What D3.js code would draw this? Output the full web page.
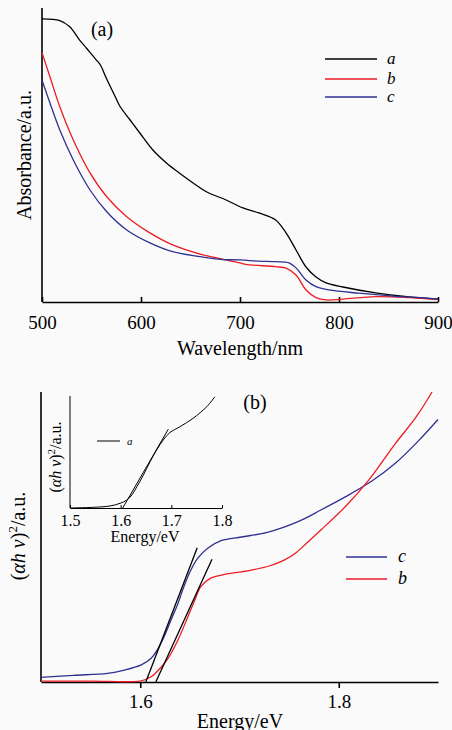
<!DOCTYPE html>
<html>
<head>
<meta charset="utf-8">
<script src="https://cdn.jsdelivr.net/npm/d3@7"></script>
<style>
  html, body { margin: 0; padding: 0; background: #fafafa; }
  svg { display: block; }
  svg text { font-family: "Liberation Serif", "Times New Roman", "DejaVu Serif", serif !important; fill: #000; }
</style>
</head>
<body>
<svg id="chart" width="452" height="730"></svg>
<script>
// ---------- Panel (a): absorbance vs wavelength ----------
const wlTicks = [500, 600, 700, 800, 900];
const wlA  = [500, 518, 528, 538, 545, 555, 559, 565, 574, 579, 589, 599, 612, 626, 639, 653, 666, 686, 703, 719, 736, 746.5, 756.6, 766.7, 776.8, 787, 804, 837, 871, 900];
const absA = [0.963, 0.957, 0.936, 0.891, 0.863, 0.823, 0.806, 0.761, 0.698, 0.664, 0.619, 0.574, 0.517, 0.472, 0.438, 0.404, 0.375, 0.347, 0.320, 0.303, 0.279, 0.235, 0.177, 0.119, 0.085, 0.065, 0.051, 0.031, 0.017, 0.010];
const wlB  = [500, 508, 518, 531.6, 548.5, 565.4, 585.6, 609, 632, 659.6, 676.5, 700, 706, 736.4, 746.5, 756.6, 766.7, 776.8, 787, 804, 837, 871, 900];
const absB = [0.848, 0.766, 0.664, 0.551, 0.439, 0.358, 0.290, 0.235, 0.194, 0.163, 0.150, 0.133, 0.128, 0.120, 0.115, 0.092, 0.041, 0.015, 0.007, 0.010, 0.018, 0.015, 0.009];
const wlC  = [500, 508, 518, 531.6, 548.5, 565.4, 585.6, 609, 632, 659.6, 680, 700, 719, 736.4, 749.5, 756.6, 766.7, 776.8, 790, 820, 854.5, 888, 900];
const absC = [0.755, 0.677, 0.585, 0.483, 0.381, 0.307, 0.245, 0.201, 0.171, 0.154, 0.145, 0.143, 0.139, 0.137, 0.133, 0.116, 0.075, 0.052, 0.041, 0.030, 0.020, 0.013, 0.009];

// ---------- Panel (b): (αhν)^2 vs energy ----------
const eTicks = [1.6, 1.8];
const eC  = [1.500, 1.533, 1.567, 1.584, 1.601, 1.611, 1.617, 1.624, 1.631, 1.638, 1.644, 1.651, 1.658, 1.668, 1.682, 1.702, 1.728, 1.759, 1.782, 1.807, 1.833, 1.857, 1.881, 1.900];
const tC  = [0.016, 0.023, 0.030, 0.041, 0.059, 0.082, 0.110, 0.156, 0.214, 0.271, 0.329, 0.386, 0.427, 0.461, 0.488, 0.500, 0.516, 0.553, 0.593, 0.639, 0.692, 0.754, 0.834, 0.905];
const eB  = [1.500, 1.550, 1.601, 1.611, 1.617, 1.627, 1.638, 1.648, 1.655, 1.661, 1.671, 1.685, 1.702, 1.712, 1.730, 1.745, 1.757, 1.768, 1.782, 1.807, 1.830, 1.857, 1.878, 1.894];
const tB  = [0.003, 0.003, 0.004, 0.018, 0.036, 0.076, 0.145, 0.225, 0.283, 0.329, 0.358, 0.371, 0.380, 0.386, 0.400, 0.420, 0.446, 0.480, 0.524, 0.606, 0.695, 0.822, 0.914, 1.000];
const tanCx = [1.6056, 1.6574], tanCy = [0, 0.463];
const tanBx = [1.6157, 1.6723], tanBy = [0, 0.423];

// ---------- Inset: sample a ----------
const insetTicks = [1.5, 1.6, 1.7, 1.8];
const eA = [1.500, 1.546, 1.579, 1.599, 1.612, 1.622, 1.632, 1.645, 1.658, 1.671, 1.684, 1.697, 1.717, 1.743, 1.770, 1.786];
const tA = [0.000, 0.006, 0.018, 0.042, 0.071, 0.116, 0.190, 0.295, 0.413, 0.518, 0.607, 0.673, 0.726, 0.801, 0.905, 0.994];
const tanAx = [1.604, 1.694], tanAy = [0, 0.703];

const colA = "#000000", colB = "#ec1c24", colC = "#2e3192";
const SERIF = "'Liberation Serif', 'Times New Roman', serif";

const svg = d3.select("#chart");
const zip = (xs, ys) => xs.map((x, i) => [x, ys[i]]);
const smooth = d3.curveCatmullRom.alpha(0.5);

function styleAxis(ax, size, w) {
  ax.attr("font-family", SERIF);
  ax.select(".domain").attr("stroke-width", w);
  ax.selectAll(".tick line").attr("stroke-width", w);
  ax.selectAll("text").attr("font-family", SERIF).style("font-size", size + "px");
}

// ===== Panel (a) =====
const xA = d3.scaleLinear().domain([500, 900]).range([42, 438]);
const yA = d3.scaleLinear().domain([0, 1]).range([302, 8]);
const lineA = d3.line().x(d => xA(d[0])).y(d => yA(d[1])).curve(smooth);

const gA = svg.append("g");
gA.append("line").attr("x1", 42).attr("x2", 42).attr("y1", yA(1)).attr("y2", yA(0))
  .attr("stroke", "#000").attr("stroke-width", 1.6);
const axA = gA.append("g").attr("transform", `translate(0,${yA(0)})`)
  .call(d3.axisBottom(xA).tickValues(wlTicks).tickSizeInner(-5).tickSizeOuter(0).tickPadding(14));
styleAxis(axA, 19, 1.6);

[[wlA, absA, colA], [wlB, absB, colB], [wlC, absC, colC]].forEach(([xs, ys, c]) => {
  gA.append("path").datum(zip(xs, ys)).attr("d", lineA)
    .attr("fill", "none").attr("stroke", c).attr("stroke-width", 1.3);
});

gA.append("text").attr("x", 240).attr("y", 355).attr("text-anchor", "middle")
  .style("font-size", "20px").text("Wavelength/nm");
gA.append("text").attr("transform", "translate(31,155) rotate(-90)").attr("text-anchor", "middle")
  .style("font-size", "20px").text("Absorbance/a.u.");
gA.append("text").attr("x", 102).attr("y", 36).attr("text-anchor", "middle")
  .style("font-size", "20px").text("(a)");

const legA = [["a", colA, 59], ["b", colB, 79], ["c", colC, 97]];
legA.forEach(([t, c, y]) => {
  gA.append("line").attr("x1", 325).attr("x2", 377).attr("y1", y).attr("y2", y)
    .attr("stroke", c).attr("stroke-width", 1.3);
  gA.append("text").attr("x", 387).attr("y", y + 5).style("font-size", "17px")
    .style("font-style", "italic").text(t);
});

// ===== Panel (b) =====
const xB = d3.scaleLinear().domain([1.5, 1.9]).range([41, 438]);
const yB = d3.scaleLinear().domain([0, 1]).range([682, 392]);
const lineB = d3.line().x(d => xB(d[0])).y(d => yB(d[1])).curve(smooth);

const gB = svg.append("g");
gB.append("line").attr("x1", 41).attr("x2", 41).attr("y1", yB(1)).attr("y2", yB(0))
  .attr("stroke", "#000").attr("stroke-width", 1.6);
const axB = gB.append("g").attr("transform", `translate(0,${yB(0)})`)
  .call(d3.axisBottom(xB).tickValues(eTicks).tickFormat(d3.format(".1f")).tickSizeInner(6).tickSizeOuter(0).tickPadding(7));
styleAxis(axB, 19, 1.6);

[[eC, tC, colC], [eB, tB, colB]].forEach(([xs, ys, c]) => {
  gB.append("path").datum(zip(xs, ys)).attr("d", lineB)
    .attr("fill", "none").attr("stroke", c).attr("stroke-width", 1.3);
});
[[tanCx, tanCy], [tanBx, tanBy]].forEach(([xs, ys]) => {
  gB.append("path").datum(zip(xs, ys)).attr("d", d3.line().x(d => xB(d[0])).y(d => yB(d[1])))
    .attr("fill", "none").attr("stroke", "#000").attr("stroke-width", 1.3);
});

gB.append("text").attr("x", 240).attr("y", 728).attr("text-anchor", "middle")
  .style("font-size", "20px").text("Energy/eV");
const ylB = gB.append("text").attr("transform", "translate(25,536) rotate(-90)").attr("text-anchor", "middle")
  .style("font-size", "20px");
ylB.append("tspan").text("(");
ylB.append("tspan").style("font-style", "italic").text("αh ν");
ylB.append("tspan").text(")");
ylB.append("tspan").attr("dy", -8).style("font-size", "13px").text("2");
ylB.append("tspan").attr("dy", 8).text("/a.u.");
gB.append("text").attr("x", 255).attr("y", 409).attr("text-anchor", "middle")
  .style("font-size", "20px").text("(b)");

const legB = [["c", colC, 557], ["b", colB, 579]];
legB.forEach(([t, c, y]) => {
  gB.append("line").attr("x1", 346).attr("x2", 387).attr("y1", y).attr("y2", y)
    .attr("stroke", c).attr("stroke-width", 1.3);
  gB.append("text").attr("x", 398).attr("y", y + 5).style("font-size", "18px")
    .style("font-style", "italic").text(t);
});

// ===== Inset =====
const xI = d3.scaleLinear().domain([1.5, 1.8]).range([70, 222]);
const yI = d3.scaleLinear().domain([0, 1]).range([508, 396]);
const lineI = d3.line().x(d => xI(d[0])).y(d => yI(d[1])).curve(smooth);
const gI = svg.append("g");
gI.append("line").attr("x1", 70).attr("x2", 70).attr("y1", yI(1)).attr("y2", yI(0))
  .attr("stroke", "#000").attr("stroke-width", 1);
const axI = gI.append("g").attr("transform", `translate(0,${yI(0)})`)
  .call(d3.axisBottom(xI).tickValues(insetTicks).tickFormat(d3.format(".1f")).tickSizeInner(-3).tickSizeOuter(0).tickPadding(7));
styleAxis(axI, 16, 1);
gI.append("path").datum(zip(eA, tA)).attr("d", lineI)
  .attr("fill", "none").attr("stroke", colA).attr("stroke-width", 1);
gI.append("path").datum(zip(tanAx, tanAy)).attr("d", d3.line().x(d => xI(d[0])).y(d => yI(d[1])))
  .attr("fill", "none").attr("stroke", "#000").attr("stroke-width", 1);
gI.append("text").attr("x", 145).attr("y", 541.7).attr("text-anchor", "middle")
  .style("font-size", "16px").text("Energy/eV");
const ylI = gI.append("text").attr("transform", "translate(61,457) rotate(-90)").attr("text-anchor", "middle")
  .style("font-size", "16px");
ylI.append("tspan").text("(");
ylI.append("tspan").style("font-style", "italic").text("αh ν");
ylI.append("tspan").text(")");
ylI.append("tspan").attr("dy", -6).style("font-size", "11px").text("2");
ylI.append("tspan").attr("dy", 6).text("/a.u.");
gI.append("line").attr("x1", 97).attr("x2", 120).attr("y1", 441).attr("y2", 441)
  .attr("stroke", colA).attr("stroke-width", 1);
gI.append("text").attr("x", 127).attr("y", 444.5).style("font-size", "11px")
  .style("font-style", "italic").text("a");
</script>
</body>
</html>
